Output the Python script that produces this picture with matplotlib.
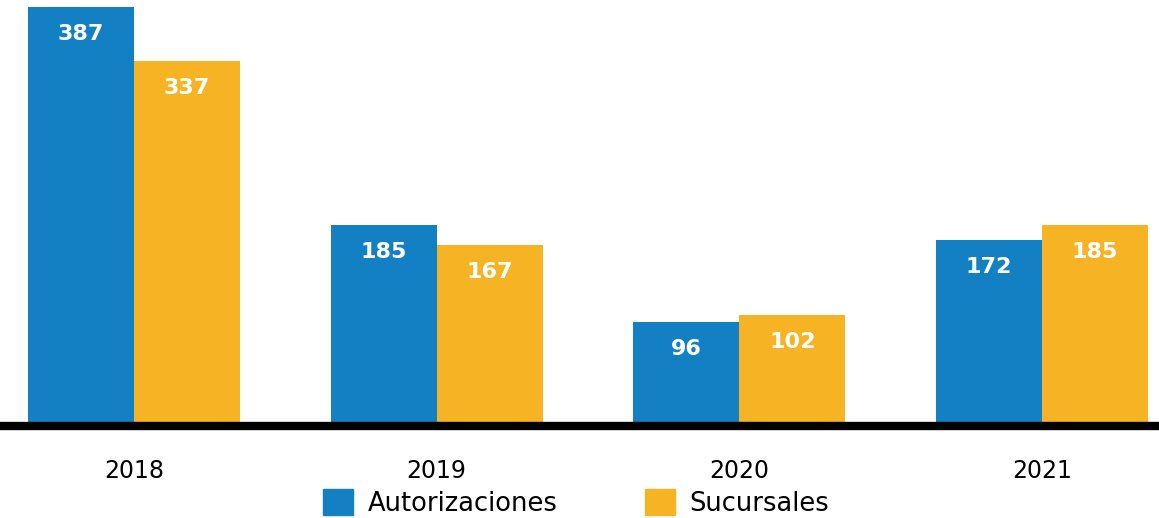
import numpy as np
import matplotlib.pyplot as plt
from matplotlib.patches import Patch

years = ['2018', '2019', '2020', '2021']
autorizaciones = [387, 185, 96, 172]
sucursales = [337, 167, 102, 185]

blue = '#1380c4'
yellow = '#f6b324'

fig = plt.figure(figsize=(11.59, 5.18), dpi=100)
ax = fig.add_axes([0, 0.1776, 1, 0.8224])

x = np.arange(len(years))
w = 0.35
b1 = ax.bar(x - w / 2, autorizaciones, w, color=blue)
b2 = ax.bar(x + w / 2, sucursales, w, color=yellow)

# value labels just under the top of each bar
for bars in (b1, b2):
    for rect in bars:
        h = rect.get_height()
        ax.annotate(f'{h:.0f}', (rect.get_x() + rect.get_width() / 2, h),
                    xytext=(0, -27), textcoords='offset pixels',
                    ha='center', va='center', color='white',
                    fontsize=16, fontweight='bold')

ax.set_xlim(-0.442, 3.386)
ax.set_ylim(0, 393)

for s in ['top', 'right', 'left']:
    ax.spines[s].set_visible(False)
ax.spines['bottom'].set_linewidth(6)
ax.spines['bottom'].set_color('black')
ax.set_yticks([])
ax.set_xticks(x)
ax.set_xticklabels(years, fontsize=17)
ax.tick_params(axis='x', length=0, pad=24)

handles = [Patch(color=blue, label='Autorizaciones'),
           Patch(color=yellow, label='Sucursales')]
fig.legend(handles=handles, loc='center', bbox_to_anchor=(576 / 1159, 15 / 518),
           ncol=2, frameon=False, fontsize=18.5, handlelength=1.17, handleheight=1.17,
           handletextpad=0.58, columnspacing=3.4, borderpad=0)

fig.savefig('out.png', dpi=100)
